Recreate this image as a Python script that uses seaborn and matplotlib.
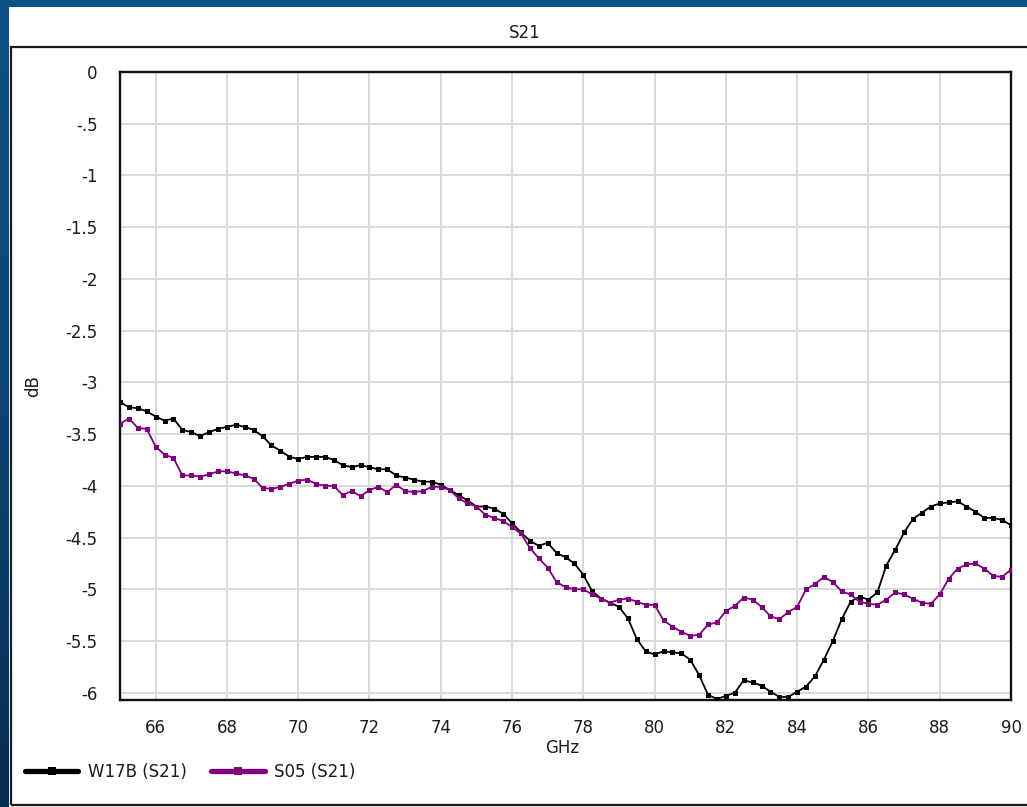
import numpy as np
import pandas as pd
import matplotlib
matplotlib.use("Agg")
import matplotlib.pyplot as plt
from matplotlib.patches import Rectangle
from matplotlib.lines import Line2D
import seaborn as sns

# Frequency grid (GHz)
freq = [65.0 + 0.25 * i for i in range(101)]

# Transmission S21 (dB) of the two devices
w17b = [
    -3.19, -3.24, -3.25, -3.28, -3.33, -3.37, -3.35, -3.46, -3.48, -3.52,
    -3.48, -3.45, -3.43, -3.41, -3.43, -3.46, -3.52, -3.61, -3.66, -3.72,
    -3.74, -3.72, -3.72, -3.72, -3.75, -3.80, -3.82, -3.80, -3.82, -3.84,
    -3.84, -3.90, -3.92, -3.94, -3.96, -3.96, -3.99, -4.04, -4.09, -4.14,
    -4.20, -4.20, -4.22, -4.27, -4.36, -4.45, -4.53, -4.58, -4.55, -4.65,
    -4.69, -4.75, -4.86, -5.02, -5.09, -5.13, -5.17, -5.28, -5.48, -5.60,
    -5.63, -5.60, -5.61, -5.62, -5.68, -5.83, -6.02, -6.06, -6.03, -6.00,
    -5.88, -5.90, -5.93, -5.99, -6.04, -6.04, -5.99, -5.94, -5.84, -5.68,
    -5.50, -5.29, -5.12, -5.07, -5.10, -5.03, -4.77, -4.62, -4.45, -4.32,
    -4.26, -4.20, -4.17, -4.16, -4.15, -4.20, -4.25, -4.31, -4.31, -4.33,
    -4.38,
]
s05 = [
    -3.40, -3.35, -3.44, -3.45, -3.62, -3.70, -3.73, -3.90, -3.90, -3.91,
    -3.89, -3.86, -3.86, -3.88, -3.90, -3.93, -4.02, -4.03, -4.01, -3.98,
    -3.95, -3.94, -3.98, -4.00, -4.00, -4.09, -4.05, -4.10, -4.04, -4.01,
    -4.06, -3.99, -4.05, -4.06, -4.05, -4.01, -4.01, -4.04, -4.12, -4.17,
    -4.20, -4.28, -4.31, -4.34, -4.40, -4.46, -4.60, -4.70, -4.79, -4.93,
    -4.98, -5.00, -5.00, -5.05, -5.09, -5.13, -5.10, -5.09, -5.12, -5.15,
    -5.15, -5.30, -5.36, -5.41, -5.45, -5.44, -5.34, -5.32, -5.21, -5.16,
    -5.08, -5.10, -5.17, -5.26, -5.29, -5.22, -5.17, -5.00, -4.95, -4.88,
    -4.93, -5.02, -5.05, -5.12, -5.14, -5.15, -5.10, -5.03, -5.05, -5.09,
    -5.13, -5.14, -5.05, -4.90, -4.80, -4.76, -4.75, -4.80, -4.87, -4.88,
    -4.81,
]

series_names = ["W17B (S21)", "S05 (S21)"]
series_colors = ["#000000", "#800080"]
x_ticks = [66, 68, 70, 72, 74, 76, 78, 80, 82, 84, 86, 88, 90]
y_ticks = [0, -0.5, -1, -1.5, -2, -2.5, -3, -3.5, -4, -4.5, -5, -5.5, -6]
y_tick_labels = ["0", "-.5", "-1", "-1.5", "-2", "-2.5", "-3", "-3.5",
                 "-4", "-4.5", "-5", "-5.5", "-6"]

df = pd.concat([
    pd.DataFrame({"GHz": freq, "dB": w17b, "series": series_names[0]}),
    pd.DataFrame({"GHz": freq, "dB": s05, "series": series_names[1]}),
])

sns.set_theme(style="white")
plt.rcParams["font.family"] = ["DejaVu Sans"]
text_col = "#1c1c1c"

W, H = 1027, 807
fig = plt.figure(figsize=(W / 100, H / 100), dpi=100)

# window background: blue gradient
bg = fig.add_axes([0, 0, 1, 1], zorder=-10)
grad = np.linspace(0, 1, 256).reshape(-1, 1)
cmap = matplotlib.colors.LinearSegmentedColormap.from_list(
    "win", ["#0d5387", "#0a4576", "#052c52"])
bg.imshow(grad, aspect="auto", cmap=cmap, extent=[0, 1, 0, 1])
bg.set_axis_off()

# white chart panel and its frame
fig.patches.append(Rectangle((9 / W, 0), 1, (H - 7) / H, transform=fig.transFigure,
                             facecolor="white", edgecolor="none", zorder=-5))
fig.patches.append(Rectangle((11 / W, 1 - 805 / H), 1.05, (805 - 47) / H,
                             transform=fig.transFigure, facecolor="none",
                             edgecolor="#1a1a1a", linewidth=1.6, zorder=-4))

ax = fig.add_axes([120 / W, 1 - 700 / H, (1011 - 120) / W, (700 - 72) / H])
ax.set_facecolor("white")

sns.lineplot(data=df, x="GHz", y="dB", hue="series", palette=series_colors,
             hue_order=series_names, marker="s", markersize=3.6,
             markeredgewidth=0, linewidth=1.3, legend=False, ax=ax,
             zorder=3)

ax.set_xlim(65, 90)
ax.set_ylim(-6.07, 0)
ax.set_xticks(x_ticks)
ax.set_xticklabels([str(t) for t in x_ticks])
ax.set_yticks(y_ticks)
ax.set_yticklabels(y_tick_labels)
ax.grid(True, color="#d8d8d8", linewidth=1.4)
ax.set_axisbelow(True)
for sp in ax.spines.values():
    sp.set_visible(True)
    sp.set_color("#111111")
    sp.set_linewidth(1.7)
ax.tick_params(axis="both", direction="out", length=4, width=1.2,
               color="#111111", labelsize=12, labelcolor=text_col)
ax.tick_params(axis="y", pad=12)
ax.tick_params(axis="x", pad=10)
ax.set_xlabel("")
ax.set_ylabel("")

fig.text(525 / W, 1 - 33 / H, "S21", ha="center", va="center",
         fontsize=12, color=text_col)
fig.text(562 / W, 1 - 748 / H, "GHz", ha="center", va="center",
         fontsize=12, color=text_col)
fig.text(33 / W, 1 - 386 / H, "dB", ha="center", va="center",
         rotation=90, fontsize=12, color=text_col)

handles = [Line2D([0], [0], color=c, linewidth=3.8, marker="s", markersize=6,
                  markeredgewidth=0) for c in series_colors]
fig.legend(handles, series_names, loc="center left",
           bbox_to_anchor=(25 / W, 1 - 772 / H), ncol=2, frameon=False,
           fontsize=12, labelcolor=text_col, handlelength=3.2,
           handletextpad=0.55, columnspacing=1.5, borderpad=0,
           borderaxespad=0, markerscale=1.0)

fig.savefig("out.png", dpi=100, facecolor=fig.get_facecolor())
